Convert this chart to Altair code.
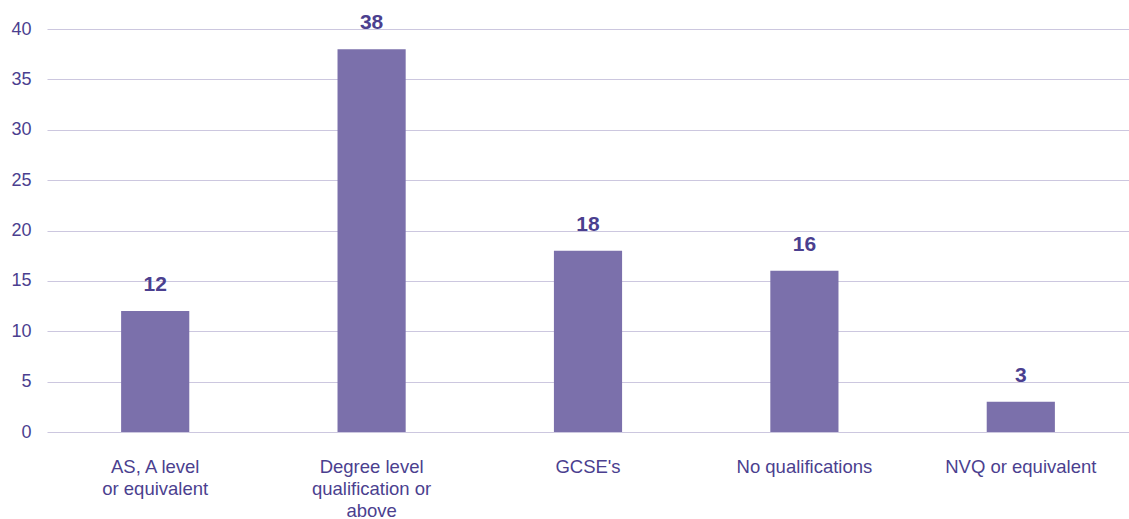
import altair as alt
import pandas as pd

categories = ["AS, A level|or equivalent", "Degree level|qualification or|above", "GCSE's", "No qualifications", "NVQ or equivalent"]
values = [12, 38, 18, 16, 3]

df = pd.DataFrame({"cat": categories, "val": values})

TXT = "#4b3f8f"
BAR = "#7b70ab"
GRID = "#ccc7df"
FONT = "Liberation Sans"

x = alt.X("cat:N", sort=categories, title=None,
          scale=alt.Scale(paddingInner=0.685, paddingOuter=0.3425),
          axis=alt.Axis(labelExpr="split(datum.label, '|')", labelAngle=0, domain=False, ticks=False,
                        grid=False, labelPadding=25, labelFont=FONT, labelFontSize=18.5, labelColor=TXT,
                        labelLineHeight=22, labelBaseline="top"))

bars = alt.Chart(df).mark_bar(color=BAR).encode(
    x=x,
    y=alt.Y("val:Q", title=None, scale=alt.Scale(domain=[0, 40]),
            axis=alt.Axis(values=[0, 5, 10, 15, 20, 25, 30, 35, 40], domain=False, ticks=False,
                          labelPadding=16, labelFont=FONT, labelFontSize=18, labelColor=TXT,
                          gridColor=GRID, gridWidth=1.2)),
)

text = alt.Chart(df).mark_text(font=FONT, fontSize=21, fontWeight="bold", color=TXT,
                               baseline="alphabetic", dy=-20).encode(
    x=alt.X("cat:N", sort=categories),
    y=alt.Y("val:Q"),
    text="val:Q",
)

chart = (bars + text).properties(
    width=1082, height=403,
    autosize=alt.AutoSizeParams(type="none"),
    padding={"left": 47, "top": 29, "right": 0, "bottom": 87},
    view=alt.ViewBackground(stroke="white", strokeOpacity=0, strokeWidth=0),
).configure_view(stroke="white", strokeOpacity=0, strokeWidth=0).configure_axisY(domain=False, ticks=False).configure_axisX(grid=False, domain=False, ticks=False).configure(background="white")

chart.save("out.html", embed_options={"renderer": "svg", "actions": False})
